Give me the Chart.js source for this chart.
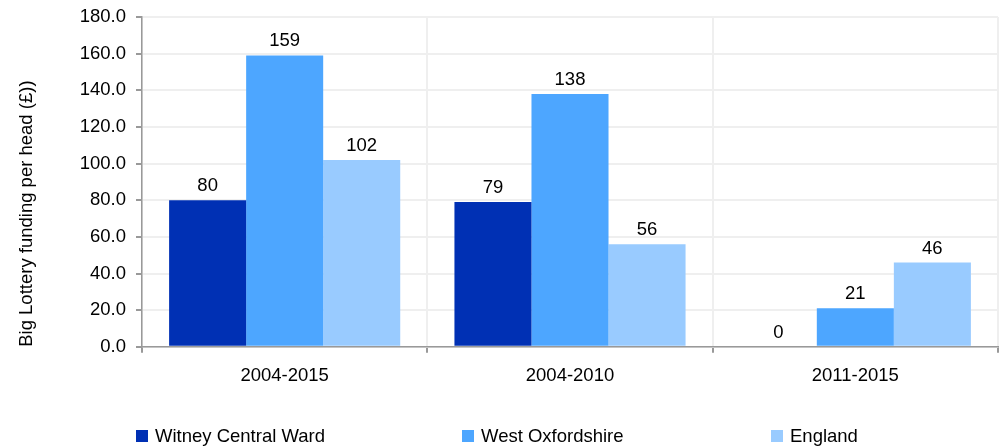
<!DOCTYPE html>
<html>
<head>
<meta charset="utf-8">
<script src="https://cdn.jsdelivr.net/npm/chart.js@4"></script>
<style>
  html, body { margin: 0; padding: 0; background: #fff; }
  #wrap { position: relative; width: 1005px; height: 446px; }
</style>
</head>
<body>
<div id="wrap"><canvas id="chart" width="1005" height="446"></canvas></div>
<script>
// Data
const periods = ["2004-2015", "2004-2010", "2011-2015"];
const seriesNames = ["Witney Central Ward", "West Oxfordshire", "England"];
const witneyValues = [80, 79, 0];
const westOxonValues = [159, 138, 21];
const englandValues = [102, 56, 46];
const seriesColours = ["#0030b4", "#4da6ff", "#99cbff"];
const yTicks = [0, 20, 40, 60, 80, 100, 120, 140, 160, 180];

const FONT = "'Liberation Sans', Arial, sans-serif";
const FS = 18.5;
const legendStarts = [136, 462, 771];

Chart.defaults.font.family = FONT;
Chart.defaults.color = "#000";

// value labels above each bar
const valueLabels = {
  id: "valueLabels",
  afterDatasetsDraw(chart) {
    const ctx = chart.ctx;
    ctx.save();
    ctx.font = FS + "px " + FONT;
    ctx.fillStyle = "#000";
    ctx.textAlign = "center";
    ctx.textBaseline = "alphabetic";
    chart.data.datasets.forEach((ds, i) => {
      chart.getDatasetMeta(i).data.forEach((bar, j) => {
        ctx.fillText(String(ds.data[j]), bar.x, bar.y - 9);
      });
    });
    ctx.restore();
  },
};

// legend spread across the bottom like the original
const bottomLegend = {
  id: "bottomLegend",
  afterDraw(chart) {
    const ctx = chart.ctx;
    ctx.save();
    ctx.font = FS + "px " + FONT;
    ctx.textBaseline = "middle";
    ctx.textAlign = "left";
    chart.data.datasets.forEach((ds, i) => {
      const x = legendStarts[i];
      ctx.fillStyle = ds.backgroundColor;
      ctx.fillRect(x, 430, 12, 12);
      ctx.fillStyle = "#000";
      ctx.fillText(ds.label, x + 19, 437);
    });
    ctx.restore();
  },
};

const ctx = document.getElementById("chart").getContext("2d");
new Chart(ctx, {
  type: "bar",
  data: {
    labels: periods,
    datasets: [
      { label: seriesNames[0], data: witneyValues, backgroundColor: seriesColours[0] },
      { label: seriesNames[1], data: westOxonValues, backgroundColor: seriesColours[1] },
      { label: seriesNames[2], data: englandValues, backgroundColor: seriesColours[2] },
    ],
  },
  options: {
    responsive: false,
    animation: false,
    layout: { padding: { top: 17, right: 7, bottom: 47, left: 0 } },
    datasets: { bar: { categoryPercentage: 0.81, barPercentage: 1.0 } },
    plugins: { legend: { display: false }, tooltip: { enabled: false } },
    scales: {
      x: {
        grid: { offset: true, color: "#efefef", lineWidth: 2, tickColor: "#999", tickLength: 6 },
        border: { color: "#999", width: 1.5 },
        ticks: { font: { size: FS }, padding: 12, color: "#000" },
      },
      y: {
        min: 0,
        max: 180,
        afterFit(scale) {
          scale.width = 142;
          scale.paddingTop = 0;
          scale.paddingBottom = 0;
        },
        afterBuildTicks(scale) { scale.ticks = yTicks.map((v) => ({ value: v })); },
        grid: { color: "#efefef", lineWidth: 2, tickColor: "#999", tickLength: 6 },
        border: { color: "#999", width: 1.5 },
        ticks: {
          font: { size: FS },
          padding: 10,
          color: "#000",
          callback: (v) => Number(v).toFixed(1),
        },
        title: {
          display: true,
          text: "Big Lottery funding per head (£))",
          font: { size: FS },
          color: "#000",
          align: "start",
          padding: { top: 16, bottom: 0 },
        },
      },
    },
  },
  plugins: [valueLabels, bottomLegend],
});
</script>
</body>
</html>
